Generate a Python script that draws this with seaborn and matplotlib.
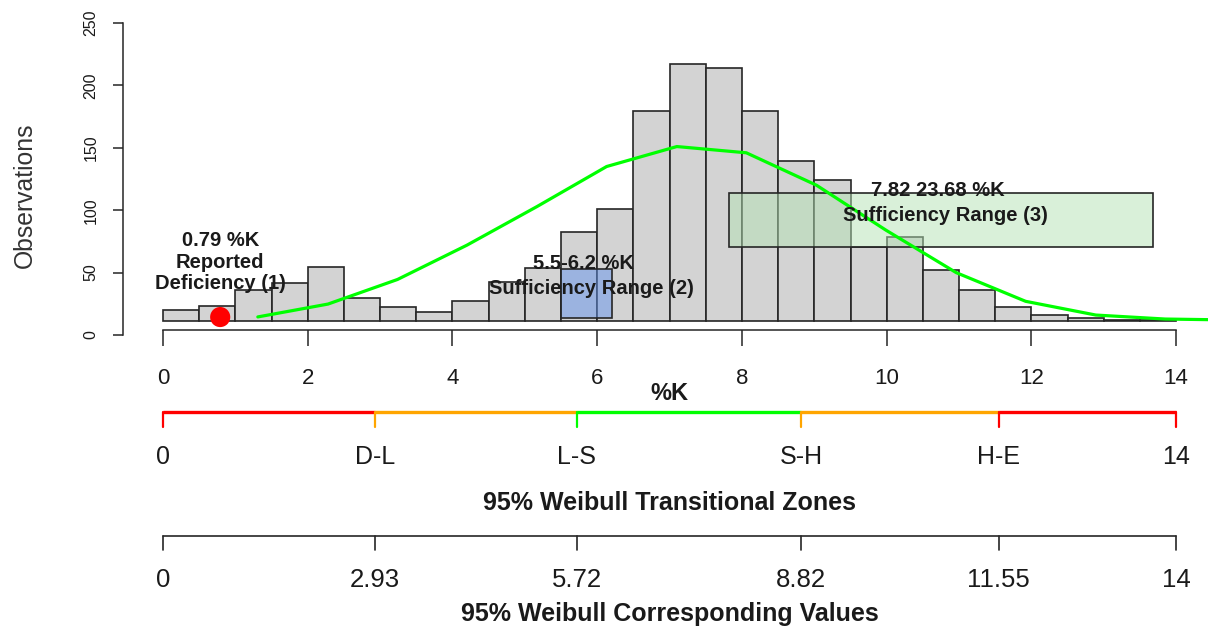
import numpy as np
import pandas as pd
import seaborn as sns
import matplotlib.pyplot as plt
import matplotlib.transforms as mtransforms
from matplotlib.patches import Rectangle

# histogram counts per 0.5 %K bin (0 .. 14)
bin_width = 0.5
counts = [9, 12, 25, 30, 43, 18, 11, 7, 16, 31, 42, 71, 90, 168,
          206, 203, 168, 128, 113, 59, 67, 41, 25, 11, 5, 2, 1, 1]
base = 11.3  # bars sit slightly above the y axis zero

# fitted curve
curve_x = [1.31, 2.28, 3.24, 4.20, 5.17, 6.13, 7.10, 8.06, 9.03, 9.99, 10.96, 11.92, 12.89, 13.85, 14.82]
curve_y = [14.5, 24.8, 44.5, 72, 103, 135, 151, 146, 120, 84, 50, 27, 16, 12.8, 12]

# reported deficiency point
def_x, def_y = 0.79, 14.4

# sufficiency ranges (x range, y range)
suff2_x = (5.5, 6.2)
suff2_y = (14, 53)
suff3_x = (7.82, 13.68)
suff3_y = (70.3, 113.5)

# weibull zones
zone_edges = [0, 2.93, 5.72, 8.82, 11.55, 14]
zone_colors = ['#ff0000', '#ffa500', '#00ff00', '#ffa500', '#ff0000']
zone_tick_colors = ['#ff0000', '#ffa500', '#00ff00', '#ffa500', '#ff0000', '#ff0000']
zone_labels = ['0', 'D-L', 'L-S', 'S-H', 'H-E', '14']
value_labels = ['0', '2.93', '5.72', '8.82', '11.55', '14']

W, H = 1208, 628
def fy(px):
    return 1 - px / H

sns.set_style('white')
plt.rcParams['font.family'] = ['Liberation Sans', 'DejaVu Sans']
txt_col = '#1a1a1a'

fig = plt.figure(figsize=(W / 100, H / 100), dpi=100)
ax = fig.add_axes([122.5 / W, fy(347.5), (W - 122.5) / W, 337 / H])

mids = np.arange(len(counts)) * bin_width + bin_width / 2
df = pd.DataFrame({'pk': mids, 'n': counts})
sns.histplot(data=df, x='pk', weights='n', binwidth=bin_width, binrange=(0, 14), ax=ax,
             color='#d3d3d3', edgecolor='#262626', linewidth=1.2, alpha=1)
for p in ax.patches:
    p.set_y(base)

ax.add_patch(Rectangle((suff2_x[0], suff2_y[0]), suff2_x[1] - suff2_x[0], suff2_y[1] - suff2_y[0],
                       facecolor=(100 / 255, 149 / 255, 237 / 255, 0.5), edgecolor='#262626', lw=1.2, zorder=3))
ax.add_patch(Rectangle((suff3_x[0], suff3_y[0]), suff3_x[1] - suff3_x[0], suff3_y[1] - suff3_y[0],
                       facecolor=(180 / 255, 226 / 255, 180 / 255, 0.5), edgecolor='#262626', lw=1.2, zorder=3))

sns.lineplot(x=curve_x, y=curve_y, color='#00ff00', linewidth=2.3, ax=ax, zorder=4)
sns.scatterplot(x=[def_x], y=[def_y], s=210, color='#ff0000', edgecolor='none', ax=ax, zorder=5)

ax.set_xlim(-0.56, 14.44)
ax.set_ylim(-10, 260)

# axes, R style
for s in ['top', 'right']:
    ax.spines[s].set_visible(False)
ax.spines['left'].set_bounds(0, 250)
ax.spines['bottom'].set_bounds(0, 14)
ax.spines['bottom'].set_position(('data', 4))
for s in ['left', 'bottom']:
    ax.spines[s].set_color('#262626')
    ax.spines[s].set_linewidth(1.1)
ax.set_xticks(np.arange(0, 15, 2))
ax.set_yticks(np.arange(0, 251, 50))
ax.tick_params(axis='x', direction='out', length=11.5, width=1.1, color='#262626', pad=16,
               labelsize=16, labelcolor=txt_col, bottom=True)
ax.tick_params(axis='y', direction='out', length=7.2, width=1.1, color='#262626', pad=10,
               labelsize=11.5, labelcolor=txt_col, labelrotation=90, left=True)
for t in ax.get_yticklabels():
    t.set_va('center')
ax.set_xlabel('')
ax.set_ylabel('Observations', fontsize=17.8, color='#333333')
ax.yaxis.set_label_coords(-0.0788, 0.451)

# annotations
ax.text(def_x, 58.5, '0.79 %K\nReported\nDeficiency (1)', ha='center', va='center',
        fontsize=14.5, fontweight='bold', color=txt_col, zorder=6, linespacing=1.15)
ax.text(5.81, 57.7, '5.5-6.2 %K', ha='center', va='center', fontsize=14.5,
        fontweight='bold', color=txt_col, zorder=6)
ax.text(5.92, 36.9, 'Sufficiency Range (2)', ha='center', va='center', fontsize=14.5,
        fontweight='bold', color=txt_col, zorder=6)
ax.text(10.70, 116, '7.82 23.68 %K', ha='center', va='center', fontsize=14.5,
        fontweight='bold', color=txt_col, zorder=6)
ax.text(10.81, 96, 'Sufficiency Range (3)', ha='center', va='center', fontsize=14.5,
        fontweight='bold', color=txt_col, zorder=6)

# lower scales
trans = mtransforms.blended_transform_factory(ax.transData, fig.transFigure)
ax.text(7, fy(393), '%K', transform=trans, ha='center', va='center', fontsize=17,
        fontweight='bold', color=txt_col)

for i in range(len(zone_colors)):
    ax.plot([zone_edges[i], zone_edges[i + 1]], [fy(411.5), fy(411.5)], color=zone_colors[i],
            lw=2.4, transform=trans, clip_on=False, solid_capstyle='butt')
for x, c, lab in zip(zone_edges, zone_tick_colors, zone_labels):
    ax.plot([x, x], [fy(411.5), fy(427)], color=c, lw=1.6, transform=trans, clip_on=False)
    ax.text(x, fy(457.5), lab, transform=trans, ha='center', va='center', fontsize=18, color=txt_col)
ax.text(7, fy(503), '95% Weibull Transitional Zones', transform=trans, ha='center', va='center',
        fontsize=18, fontweight='bold', color=txt_col)

ax.plot([zone_edges[0], zone_edges[-1]], [fy(535.5), fy(535.5)], color='#262626', lw=1.2,
        transform=trans, clip_on=False)
for x, lab in zip(zone_edges, value_labels):
    ax.plot([x, x], [fy(535.5), fy(550)], color='#262626', lw=1.2, transform=trans, clip_on=False)
    ax.text(x, fy(580), lab, transform=trans, ha='center', va='center', fontsize=18.5, color=txt_col)
ax.text(7, fy(614), '95% Weibull Corresponding Values', transform=trans, ha='center', va='center',
        fontsize=18, fontweight='bold', color=txt_col)

fig.savefig('out.png', dpi=100)
